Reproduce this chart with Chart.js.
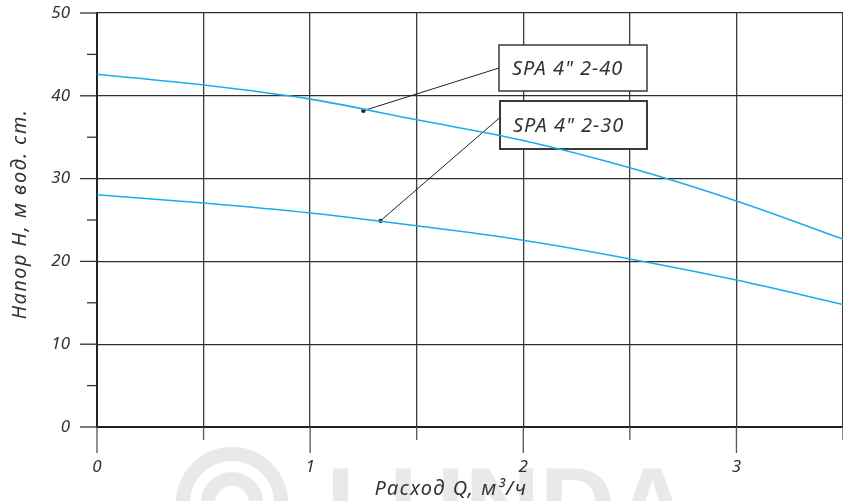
<!DOCTYPE html>
<html lang="ru">
<head>
    <meta charset="UTF-8">
    <title>SPA 4" 2-30 / 2-40</title>
    <script src="https://cdn.jsdelivr.net/npm/chart.js"></script>
    <style>
        body {
            margin: 0;
            padding: 0;
            background: #fff;
        }
        .chart-container {
            width: 843px;
            height: 501px;
            position: relative;
        }
    </style>
</head>
<body>

<div class="chart-container">
    <canvas id="pumpChart"></canvas>
</div>

<script>
    // Данные кривых (подача Q, м3/ч -> напор H, м)
    const flowQ = [0, 0.5, 1, 1.5, 2, 2.5, 3, 3.5];
    const head240 = [42.6, 41.3, 39.6, 37.1, 34.6, 31.3, 27.3, 22.7];
    const head230 = [28.05, 27.05, 25.85, 24.3, 22.55, 20.3, 17.75, 14.8];

    // Подписи моделей и точки, к которым идут выноски
    const modelNames = ['SPA 4" 2-40', 'SPA 4" 2-30'];
    const markerQ = [1.25, 1.33];
    const markerH = [38.2, 24.9];

    const xTitle = 'Расход Q, м³/ч';
    const yTitle = 'Напор H, м вод. ст.';

    const curveColor = '#1badea';
    const inkColor = '#333';
    const fontFamily = '"Noto Sans", "Open Sans", sans-serif';

    function toPoints(xs, ys) {
        return xs.map((x, i) => ({ x: x, y: ys[i] }));
    }

    // Водяной знак на фоне
    const watermarkPlugin = {
        id: 'watermark',
        beforeDraw(chart) {
            const ctx = chart.ctx;
            ctx.save();
            ctx.strokeStyle = '#e9e9e9';
            ctx.lineWidth = 14;
            ctx.beginPath();
            ctx.arc(232, 503, 49, 0, Math.PI * 2);
            ctx.stroke();
            ctx.beginPath();
            ctx.arc(232, 503, 24, 0, Math.PI * 2);
            ctx.stroke();
            ctx.fillStyle = '#e9e9e9';
            ctx.font = 'bold 104px "Liberation Sans", Arial, sans-serif';
            ctx.textBaseline = 'alphabetic';
            ctx.fillText('LUNDA', 326, 540);
            ctx.restore();
        }
    };

    // Засечки на осях и подписи осей
    const axisPlugin = {
        id: 'axisDecor',
        afterDraw(chart) {
            const ctx = chart.ctx;
            const xs = chart.scales.x;
            const ys = chart.scales.y;
            const area = chart.chartArea;
            ctx.save();
            ctx.strokeStyle = '#555';
            ctx.lineWidth = 1.3;
            xs.ticks.forEach(t => {
                const px = xs.getPixelForValue(t.value);
                const len = Number.isInteger(t.value) ? 26 : 13;
                ctx.beginPath();
                ctx.moveTo(px, area.bottom);
                ctx.lineTo(px, area.bottom + len);
                ctx.stroke();
            });
            ctx.strokeStyle = '#333';
            ys.ticks.forEach(t => {
                const py = ys.getPixelForValue(t.value);
                const len = t.value % 10 === 0 ? 17 : 10;
                ctx.beginPath();
                ctx.moveTo(area.left - len, py);
                ctx.lineTo(area.left, py);
                ctx.stroke();
            });

            ctx.fillStyle = inkColor;
            ctx.font = 'italic 20px ' + fontFamily;
            ctx.letterSpacing = '1.5px';
            ctx.textAlign = 'center';
            ctx.textBaseline = 'middle';
            ctx.fillText(xTitle, 451, 489);
            ctx.translate(20, 214);
            ctx.rotate(-Math.PI / 2);
            ctx.fillText(yTitle, 0, 0);
            ctx.restore();
        }
    };

    // Рамки с названиями моделей и выноски
    const labelPlugin = {
        id: 'modelLabels',
        beforeDatasetsDraw(chart) {
            const ctx = chart.ctx;
            const xs = chart.scales.x;
            const ys = chart.scales.y;
            const boxes = [
                { x: 499, y: 45, w: 148, h: 46, lw: 1.5, from: [499, 68] },
                { x: 500, y: 101, w: 147, h: 48, lw: 2, from: [519, 101] }
            ];
            ctx.save();
            boxes.forEach((b, i) => {
                const mx = xs.getPixelForValue(markerQ[i]);
                const my = ys.getPixelForValue(markerH[i]);
                ctx.strokeStyle = '#222';
                ctx.lineWidth = 1;
                ctx.beginPath();
                ctx.moveTo(b.from[0], b.from[1]);
                ctx.lineTo(mx, my);
                ctx.stroke();
                ctx.fillStyle = '#222';
                ctx.beginPath();
                ctx.arc(mx, my, 2.2, 0, Math.PI * 2);
                ctx.fill();

                ctx.fillStyle = '#fff';
                ctx.fillRect(b.x, b.y, b.w, b.h);
                ctx.strokeStyle = '#3a3a3a';
                ctx.lineWidth = b.lw;
                ctx.strokeRect(b.x, b.y, b.w, b.h);

                ctx.fillStyle = inkColor;
                ctx.font = 'italic 20px ' + fontFamily;
                ctx.letterSpacing = '1px';
                ctx.textAlign = 'left';
                ctx.textBaseline = 'middle';
                ctx.fillText(modelNames[i], b.x + 13, b.y + b.h / 2 + 1);
            });
            ctx.restore();
        }
    };

    const ctx = document.getElementById('pumpChart').getContext('2d');
    new Chart(ctx, {
        type: 'line',
        data: {
            datasets: [
                {
                    label: modelNames[0],
                    data: toPoints(flowQ, head240),
                    borderColor: curveColor,
                    borderWidth: 1.6,
                    pointRadius: 0,
                    cubicInterpolationMode: 'monotone',
                    fill: false
                },
                {
                    label: modelNames[1],
                    data: toPoints(flowQ, head230),
                    borderColor: curveColor,
                    borderWidth: 1.6,
                    pointRadius: 0,
                    cubicInterpolationMode: 'monotone',
                    fill: false
                }
            ]
        },
        options: {
            responsive: true,
            maintainAspectRatio: false,
            animation: false,
            layout: {
                padding: { top: 13, right: 0, bottom: 0, left: 0 }
            },
            plugins: {
                legend: { display: false },
                tooltip: { enabled: false }
            },
            scales: {
                x: {
                    type: 'linear',
                    min: 0,
                    max: 3.5,
                    // без лишних отступов справа
                    afterFit: s => {
                        s.height = 74;
                        s.paddingLeft = 0;
                        s.paddingRight = 0;
                    },
                    border: { color: '#222', width: 2 },
                    grid: {
                        color: '#3c3c3c',
                        lineWidth: 1.3,
                        drawTicks: false
                    },
                    ticks: {
                        stepSize: 0.5,
                        autoSkip: false,
                        maxRotation: 0,
                        padding: 30,
                        color: inkColor,
                        font: { family: fontFamily, size: 17, style: 'italic' },
                        callback: v => Number.isInteger(v) ? v : ''
                    }
                },
                y: {
                    min: 0,
                    max: 50,
                    afterFit: s => {
                        s.width = 97;
                        s.paddingTop = 0;
                        s.paddingBottom = 0;
                    },
                    border: { color: '#222', width: 2 },
                    grid: {
                        color: c => c.tick.value % 10 === 0 ? '#2e2e2e' : 'rgba(0,0,0,0)',
                        lineWidth: 1.3,
                        drawTicks: false
                    },
                    ticks: {
                        stepSize: 5,
                        autoSkip: false,
                        padding: 27,
                        color: inkColor,
                        font: { family: fontFamily, size: 17, style: 'italic' },
                        callback: v => v % 10 === 0 ? v : ''
                    }
                }
            }
        },
        plugins: [watermarkPlugin, labelPlugin, axisPlugin]
    });
</script>
</body>
</html>
